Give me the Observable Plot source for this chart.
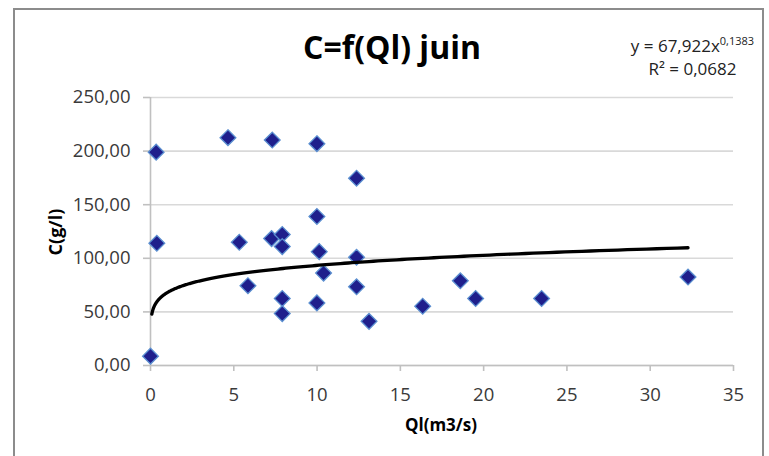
<!DOCTYPE html>
<html><head><meta charset="utf-8">
<script src="https://cdn.jsdelivr.net/npm/d3@7"></script>
<script src="https://cdn.jsdelivr.net/npm/@observablehq/plot@0.6"></script>
<style>
body{margin:0;background:#fff;font-family:"Open Sans",sans-serif;}
#wrap{position:relative;width:769px;height:456px;overflow:hidden;background:#fff;}
#frame{position:absolute;left:13px;top:8px;width:751px;height:470px;border:2px solid #8c8c8c;box-sizing:border-box;}
#chart{position:absolute;left:0;top:0;}
.t{position:absolute;white-space:nowrap;color:#000;}
#title{left:0;width:784px;top:31px;text-align:center;font-size:32px;line-height:32px;font-weight:700;}
#eq1{left:592px;width:201px;top:37px;text-align:center;font-size:17px;line-height:17px;color:#222;}
#eq1 sup{font-size:11px;line-height:0;vertical-align:7px;}
#eq2{left:592px;width:201px;top:60px;text-align:center;font-size:17px;line-height:17px;color:#222;}
#xlab{left:341px;width:200px;top:416px;text-align:center;font-size:17px;line-height:18px;font-weight:700;}
#ylab{left:5px;width:100px;top:223px;text-align:center;font-size:18px;line-height:18px;font-weight:700;transform:rotate(-90deg);}
</style>
</head><body>
<div id="wrap">
  <div id="frame"></div>
  <div id="chart"></div>
  <div class="t" id="title">C=f(Ql) juin</div>
  <div class="t" id="eq1">y = 67,922x<sup>0,1383</sup></div>
  <div class="t" id="eq2">R² = 0,0682</div>
  <div class="t" id="xlab">Ql(m3/s)</div>
  <div class="t" id="ylab">C(g/l)</div>
</div>
<script>
// Data
const ql = [0.34, 4.65, 7.31, 9.99, 12.37, 9.99, 0.38, 5.33, 7.27, 7.91, 7.91, 10.13, 12.37, 10.39, 5.85, 12.37, 7.91, 9.99, 7.91, 13.12, 0.0, 16.34, 18.6, 19.52, 23.48, 32.27];
const conc = [199, 212.5, 210.3, 206.9, 174.7, 139, 114, 115, 118.4, 122.2, 110.9, 106.2, 101, 86.2, 74.4, 73.4, 62.5, 58.4, 48.4, 41.2, 8.7, 55.3, 79, 62.5, 62.5, 82.5];
const xTicks = [0, 5, 10, 15, 20, 25, 30, 35];
const yTicks = [0, 50, 100, 150, 200, 250];
// Power trendline as printed on the chart: y = 67,922 x^0,1383
const trendCoef = 67.922;
const trendExp = 0.1383;
const trendStart = 0.08;

const points = ql.map((x, i) => ({x, y: conc[i]}));
const xMax = d3.max(ql);
const trend = d3.range(0, 301).map(i => {
  const x = trendStart * Math.pow(xMax / trendStart, i / 300);
  return {x, y: trendCoef * Math.pow(x, trendExp)};
});
const fmtY = d => d.toFixed(2).replace(".", ",");

const chart = Plot.plot({
  width: 769,
  height: 456,
  marginLeft: 150,
  marginRight: 36,
  marginTop: 97,
  marginBottom: 91,
  style: {fontFamily: "Open Sans, sans-serif", fontSize: "18.5px", color: "#3a3a3a", background: "transparent"},
  x: {domain: [0, 35]},
  y: {domain: [0, 250]},
  marks: [
    Plot.gridY(yTicks, {stroke: "#d9d9d9", strokeOpacity: 1, strokeWidth: 1.6}),
    Plot.ruleX([0], {stroke: "#c0c0c0", strokeWidth: 1.6}),
    Plot.ruleY([0], {stroke: "#c0c0c0", strokeWidth: 1.6}),
    Plot.axisY(yTicks, {tickSize: 7, tickPadding: 13, tickFormat: fmtY, stroke: "#c0c0c0", strokeOpacity: 1, strokeWidth: 1.6, label: null}),
    Plot.axisX(xTicks, {tickSize: 6, tickPadding: 16, tickFormat: d => String(d), stroke: "#c0c0c0", strokeOpacity: 1, strokeWidth: 1.6, label: null}),
    Plot.dot(points, {x: "x", y: "y", symbol: "diamond2", r: 7.1, fill: "#1f1f8c", stroke: "#5b8fd0", strokeWidth: 1.3}),
    Plot.line(trend, {x: "x", y: "y", stroke: "#000", strokeWidth: 3.3, curve: "linear"})
  ]
});
document.getElementById("chart").appendChild(chart);
</script>
</body></html>
